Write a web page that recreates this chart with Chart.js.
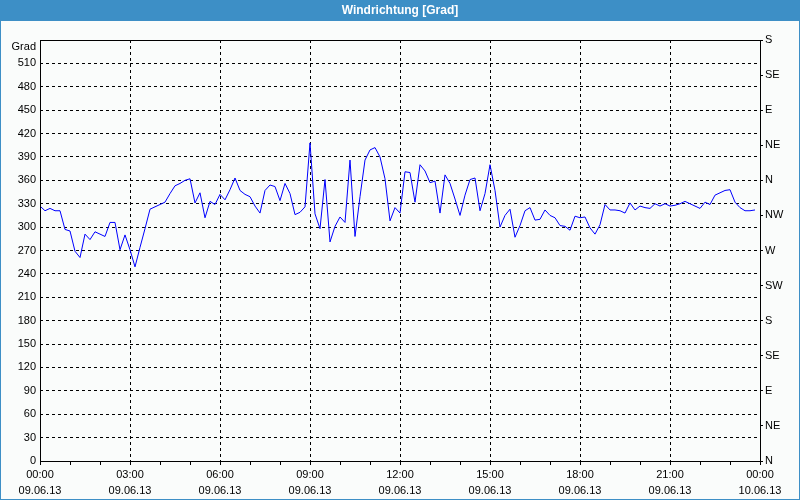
<!DOCTYPE html>
<html>
<head>
<meta charset="utf-8">
<script src="https://cdn.jsdelivr.net/npm/chart.js@4"></script>
<style>
  html, body { margin: 0; padding: 0; background: #fafcfb; }
  #wrap { width: 800px; height: 500px; }
</style>
</head>
<body>
<div id="wrap"><canvas id="windChart" width="800" height="500"></canvas></div>
<script>
// wind direction in degrees, one reading every 10 minutes from 09.06.13 00:00
const intervalMin = 10;
const direction = [
  327, 321, 324, 321, 321, 297, 295, 269, 261, 291,
  284, 294, 291, 288, 306, 306, 271, 290, 271, 249,
  274, 298, 323, 326, 329, 332, 343, 353, 356, 360,
  362, 331, 344, 312, 333, 329, 342, 335, 348, 363,
  347, 342, 339, 327, 318, 347, 354, 352, 334, 356,
  343, 316, 319, 326, 408, 317, 298, 361, 281, 301,
  313, 306, 386, 288, 339, 386, 399, 402, 390, 362,
  308, 325, 318, 371, 370, 332, 380, 372, 357, 359,
  318, 367, 356, 336, 315, 341, 361, 363, 321, 343,
  380, 347, 300, 315, 323, 287, 302, 321, 325, 309,
  310, 322, 315, 312, 302, 301, 296, 314, 312, 313,
  299, 291, 303, 329, 322, 322, 321, 318, 331, 322,
  327, 325, 324, 330, 327, 330, 327, 328, 330, 333,
  330, 327, 324, 332, 329, 341, 344, 347, 348, 332,
  325, 321, 321, 322
];

const timeLabels = ['00:00', '03:00', '06:00', '09:00', '12:00', '15:00', '18:00', '21:00', '00:00'];
const dateLabels = ['09.06.13', '09.06.13', '09.06.13', '09.06.13', '09.06.13', '09.06.13', '09.06.13', '09.06.13', '10.06.13'];
const compassLabels = ['N', 'NE', 'E', 'SE', 'S', 'SW', 'W', 'NW', 'N', 'NE', 'E', 'SE', 'S'];

const font = { family: '"Liberation Sans", Arial, sans-serif', size: 11 };

// title bar, outer frame and plot box
const framePlugin = {
  id: 'frame',
  beforeDraw(chart) {
    const c = chart.ctx;
    c.save();
    c.fillStyle = '#fafcfb';
    c.fillRect(0, 0, chart.width, chart.height);
    c.fillStyle = '#3d8fc6';
    c.fillRect(0, 0, chart.width, 21);
    c.strokeStyle = '#3d8fc6';
    c.lineWidth = 1;
    c.strokeRect(0.5, 0.5, chart.width - 1, chart.height - 1);
    c.restore();
  },
  afterDraw(chart) {
    const a = chart.chartArea;
    const c = chart.ctx;
    c.save();
    c.strokeStyle = '#000';
    c.lineWidth = 1;
    c.strokeRect(Math.round(a.left) + 0.5, Math.round(a.top) + 0.5,
      Math.round(a.right - a.left), Math.round(a.bottom - a.top));
    c.restore();
  }
};

new Chart(document.getElementById('windChart'), {
  type: 'line',
  data: {
    datasets: [{
      label: 'Windrichtung',
      data: direction.map((v, i) => ({ x: i * intervalMin, y: v })),
      borderColor: '#0000ff',
      borderWidth: 1,
      pointRadius: 0,
      tension: 0,
      fill: false
    }]
  },
  options: {
    responsive: false,
    animation: false,
    layout: { padding: 0 },
    plugins: {
      legend: { display: false },
      tooltip: { enabled: false },
      title: {
        display: true,
        text: 'Windrichtung [Grad]',
        color: '#ffffff',
        font: { family: font.family, size: 12, weight: 'bold' },
        padding: { top: 3, bottom: 22.6 }
      }
    },
    scales: {
      x: {
        type: 'linear',
        min: 0,
        max: 1440,
        afterFit: s => { s.height = 39; },
        ticks: {
          stepSize: 60,
          autoSkip: false,
          maxRotation: 0,
          color: '#000',
          padding: 2,
          font: { ...font, lineHeight: 1.45 },
          callback: v => v % 180 === 0 ? [timeLabels[v / 180], dateLabels[v / 180]] : ''
        },
        grid: {
          color: ctx => ctx.tick && ctx.tick.value % 180 === 0 ? '#000' : 'rgba(0,0,0,0)',
          tickColor: '#000',
          tickLength: 4,
          lineWidth: 1
        },
        border: { display: false, dash: [3, 3] }
      },
      y: {
        position: 'left',
        min: 0,
        max: 540,
        afterFit: s => { s.width = 40; },
        ticks: {
          stepSize: 30,
          autoSkip: false,
          color: '#000',
          padding: 4,
          font: font,
          // the unit sits just below the top line, in place of 540
          callback: v => v === 540 ? ['', 'Grad'] : v
        },
        grid: { color: '#000', drawTicks: false, lineWidth: 1 },
        border: { display: false, dash: [3, 3] }
      },
      y2: {
        position: 'right',
        min: 0,
        max: 540,
        afterFit: s => { s.width = 40; },
        ticks: {
          stepSize: 45,
          autoSkip: false,
          color: '#000',
          padding: 2,
          font: font,
          callback: (v, i) => compassLabels[i]
        },
        grid: { drawOnChartArea: false, tickColor: '#000', tickLength: 3 },
        border: { display: false }
      }
    }
  },
  plugins: [framePlugin]
});
</script>
</body>
</html>
